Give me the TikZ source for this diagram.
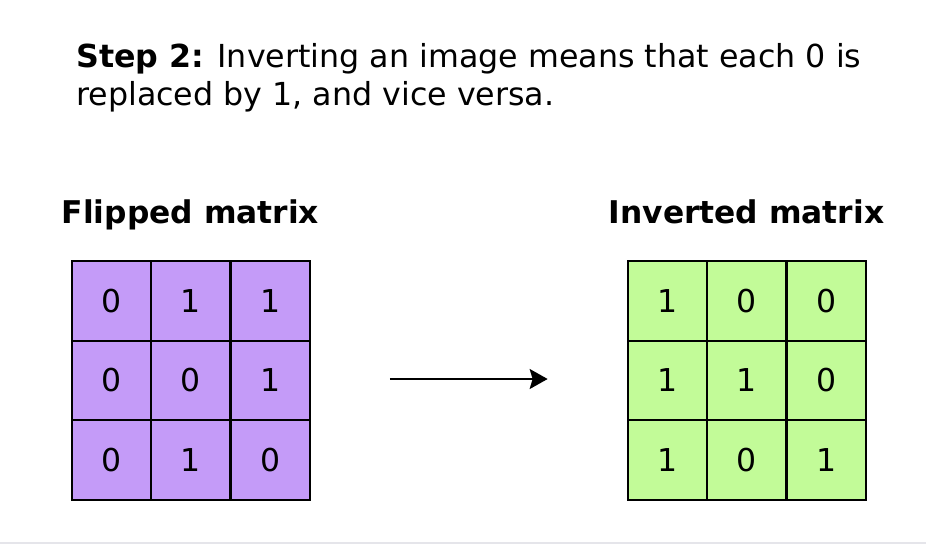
\documentclass[tikz,border=0pt]{standalone}
\usepackage{fontspec}
\setmainfont{DejaVu Sans}
\usetikzlibrary{arrows.meta}
\definecolor{purp}{RGB}{196,155,248}
\definecolor{grn}{RGB}{194,251,152}
\definecolor{rule}{RGB}{229,229,234}
\tikzset{
  cellbox/.style={minimum width=79.3pt, minimum height=79.3pt, inner sep=0pt, font=\fontsize{31.5}{36}\selectfont, anchor=center},
  pcell/.style={cellbox, fill=purp},
  gcell/.style={cellbox, fill=grn},
  cellline/.style={draw=black, line width=2pt},
  heading/.style={font=\bfseries\fontsize{31.3}{36}\selectfont, anchor=base},
  connector/.style={line width=2pt, -{Stealth[length=18pt, width=20pt, inset=3pt]}},
}
\begin{document}
\begin{tikzpicture}[x=1pt, y=-1pt]
\useasboundingbox (0,0) rectangle (926,548);
\fill[white] (0,0) rectangle (926,548);
\draw[rule, line width=2pt] (0,543) -- (926,543);
\node[anchor=base west, inner sep=0pt, align=left, font=\fontsize{31.7}{38}\selectfont] (title) at (76,106)
  {\textbf{Step 2:} Inverting an image means that each 0 is\\replaced by 1, and vice versa.};
\node[heading] (hl) at (190.5,224) {Flipped matrix};
\node[heading] (hr) at (746.5,224) {Inverted matrix};
% left matrix
\foreach \r/\y/\a/\b/\c in {1/301/0/1/1, 2/380.5/0/0/1, 3/460/0/1/0}{
  \node[pcell] (l\r1) at (111.5,\y) {\a};
  \node[pcell] (l\r2) at (190.8,\y) {\b};
  \node[pcell] (l\r3) at (270.1,\y) {\c};
}
% right matrix
\foreach \r/\y/\a/\b/\c in {1/301/1/0/0, 2/380.5/1/1/0, 3/460/1/0/1}{
  \node[gcell] (r\r1) at (667.5,\y) {\a};
  \node[gcell] (r\r2) at (746.8,\y) {\b};
  \node[gcell] (r\r3) at (826.1,\y) {\c};
}
\foreach \m in {l,r}{
  \foreach \r in {1,2,3}{
    \foreach \c in {1,2,3}{
      \draw[cellline] (\m\r\c.south west) rectangle (\m\r\c.north east);
    }
  }
}
\draw[connector, shorten <=80pt, shorten >=80pt] ([yshift=1.5pt]l23.east) -- ([yshift=1.5pt]r21.west);
\end{tikzpicture}
\end{document}
